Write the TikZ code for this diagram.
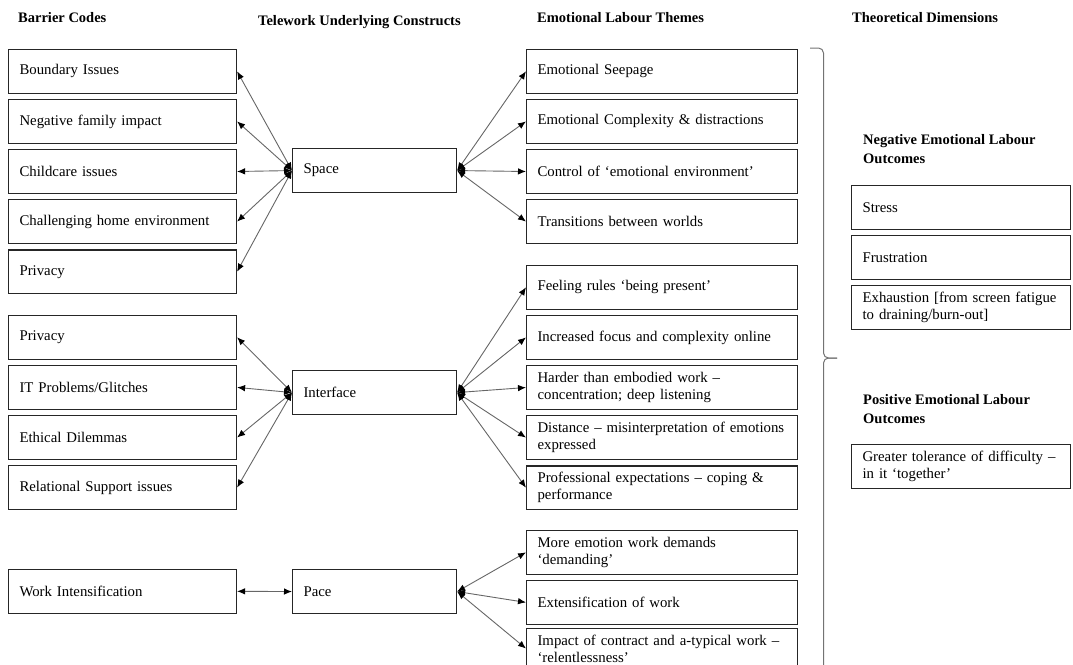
\documentclass[tikz,border=0pt]{standalone}
\usepackage{fontspec}
\setmainfont{Liberation Serif}
\usetikzlibrary{arrows.meta, positioning}

\begin{document}
\begin{tikzpicture}[x=1pt, y=1pt,
        code/.style={draw=black!85, line width=1.1pt, anchor=north west, align=left, text width=206pt,
            inner xsep=11pt, inner ysep=0pt, minimum height=43.5pt, font=\fontsize{14.8}{17}\selectfont},
        construct/.style={code, text width=142pt, minimum height=44pt},
        theme/.style={code, text width=249pt},
        outcome/.style={code, text width=197pt},
        heading/.style={anchor=base west, inner sep=0pt, align=left, font=\fontsize{14.5}{19}\selectfont\bfseries},
        >={Latex[length=8pt, width=6.5pt, color=black]},
        link/.style={<->, draw=black!60, line width=0.9pt}
    ]
        \useasboundingbox (0,0) rectangle (1073,-664);

        % Column headings
        \node[heading] (hbarrier) at (18,-22) {Barrier Codes};
        \node[heading] (hconstruct) at (258,-25) {Telework Underlying Constructs};
        \node[heading] (htheme) at (537,-22) {Emotional Labour Themes};
        \node[heading] (hdimension) at (852,-22) {Theoretical Dimensions};

        % Barrier codes
        \node[code] (boundary) at (8,-49) {Boundary Issues};
        \node[code, below=5.5pt of boundary] (family) {Negative family impact};
        \node[code, below=5.5pt of family] (childcare) {Childcare issues};
        \node[code, below=5.5pt of childcare] (homeenv) {Challenging home environment};
        \node[code, below=5.5pt of homeenv] (privacyA) {Privacy};

        \node[code] (privacyB) at (8,-315) {Privacy};
        \node[code, below=5.5pt of privacyB] (glitches) {IT Problems/Glitches};
        \node[code, below=5.5pt of glitches] (ethical) {Ethical Dilemmas};
        \node[code, below=5.5pt of ethical] (relational) {Relational Support issues};

        \node[code] (intensification) at (8,-569) {Work Intensification};

        % Underlying constructs
        \node[construct] (space) at (292,-148) {Space};
        \node[construct] (interface) at (292,-370) {Interface};
        \node[construct] (pace) at (292,-569) {Pace};

        % Emotional labour themes
        \node[theme] (seepage) at (526,-49) {Emotional Seepage};
        \node[theme, below=5.5pt of seepage] (complexity) {Emotional Complexity \& distractions};
        \node[theme, below=5.5pt of complexity] (control) {Control of ‘emotional environment’};
        \node[theme, below=5.5pt of control] (transitions) {Transitions between worlds};

        \node[theme] (feeling) at (526,-265) {Feeling rules ‘being present’};
        \node[theme, below=5.5pt of feeling] (focus) {Increased focus and complexity online};
        \node[theme, below=5.5pt of focus] (harder) {Harder than embodied work –\\concentration; deep listening};
        \node[theme, below=5.5pt of harder] (distance) {Distance – misinterpretation of emotions\\expressed};
        \node[theme, below=5.5pt of distance] (professional) {Professional expectations – coping \&\\performance};

        \node[theme] (demands) at (526,-530) {More emotion work demands\\‘demanding’};
        \node[theme, below=5.5pt of demands] (extensification) {Extensification of work};
        \node[theme, minimum height=40pt] (contract) at (526,-628) {Impact of contract and a-typical work –\\‘relentlessness’};

        % Brace
        \draw[black!55, line width=1pt, rounded corners=5pt] (810,-48) -- (823.5,-48) -- (823.5,-358) -- (837,-358);
        \draw[black!55, line width=1pt, rounded corners=5pt] (837,-358) -- (823.5,-358) -- (823.5,-690);

        % Theoretical dimensions
        \node[heading, anchor=north west] (hnegative) at (863,-134) {Negative Emotional Labour\\Outcomes};
        \node[outcome] (stress) at (851,-185) {Stress};
        \node[outcome, below=5.5pt of stress] (frustration) {Frustration};
        \node[outcome, below=5.5pt of frustration] (exhaustion) {Exhaustion [from screen fatigue\\to draining/burn-out]};

        \node[heading, anchor=north west] (hpositive) at (863,-394) {Positive Emotional Labour\\Outcomes};
        \node[outcome] (tolerance) at (851,-444) {Greater tolerance of difficulty –\\in it ‘together’};

        % Space links
        \draw[link] (space.west) -- (boundary.east);
        \draw[link] (space.west) -- (family.east);
        \draw[link] (space.west) -- (childcare.east);
        \draw[link] (space.west) -- (homeenv.east);
        \draw[link] (space.west) -- (privacyA.east);
        \draw[link] (space.east) -- (seepage.west);
        \draw[link] (space.east) -- (complexity.west);
        \draw[link] (space.east) -- (control.west);
        \draw[link] (space.east) -- (transitions.west);

        % Interface links
        \draw[link] (interface.west) -- (privacyB.east);
        \draw[link] (interface.west) -- (glitches.east);
        \draw[link] (interface.west) -- (ethical.east);
        \draw[link] (interface.west) -- (relational.east);
        \draw[link] (interface.east) -- (feeling.west);
        \draw[link] (interface.east) -- (focus.west);
        \draw[link] (interface.east) -- (harder.west);
        \draw[link] (interface.east) -- (distance.west);
        \draw[link] (interface.east) -- (professional.west);

        % Pace links
        \draw[link] (pace.west) -- (intensification.east);
        \draw[link] (pace.east) -- (demands.west);
        \draw[link] (pace.east) -- (extensification.west);
        \draw[link] (pace.east) -- (contract.west);
    \end{tikzpicture}
\end{document}
